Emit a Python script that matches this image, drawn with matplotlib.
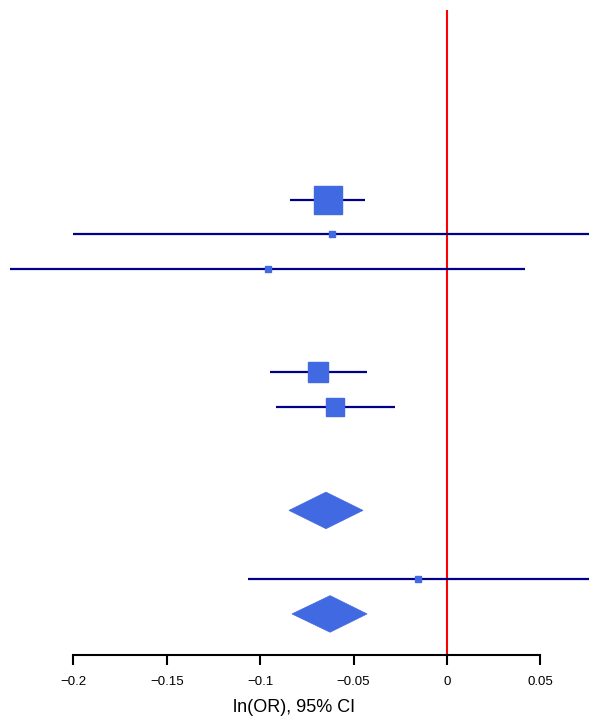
import matplotlib
matplotlib.use("Agg")
import matplotlib.pyplot as plt
from matplotlib.patches import Polygon

plt.rcParams['font.family'] = ['Liberation Sans', 'DejaVu Sans']

# Study rows (estimate, lower, upper, marker size in points, row position)
est = [-0.0637, -0.0616, -0.0958, -0.0690, -0.0600, -0.0155]
lower = [-0.0840, -0.2000, -0.2340, -0.0948, -0.0915, -0.1065]
upper = [-0.0440, 0.0768, 0.0418, -0.0428, -0.0278, 0.0760]
msize = [20, 3.8, 3.8, 15, 13, 4.8]
rows = [13, 12, 11, 8, 7, 2]

# Summary diamonds (estimate, lower, upper, row)
sum_est = [-0.0648, -0.0626]
sum_lo = [-0.0846, -0.0830]
sum_hi = [-0.0450, -0.0428]
sum_rows = [4, 1]

xticks = [-0.2, -0.15, -0.1, -0.05, 0, 0.05]
xticklabels = ["\u22120.2", "\u22120.15", "\u22120.1", "\u22120.05", "0", "0.05"]

fig = plt.figure(figsize=(5.89, 7.23), dpi=100)
ax = fig.add_axes([0, 68/723, 1, 645/723])
ax.set_xlim(-0.2393, 0.0760)
ax.set_ylim(-0.19, 18.5)

ax.axvline(0, color='red', lw=1.5, zorder=1)

for e, lo, hi, s, r in zip(est, lower, upper, msize, rows):
    ax.plot([lo, hi], [r, r], color='#00008B', lw=1.6, zorder=2, solid_capstyle='butt')
    ax.plot([e], [r], marker='s', ms=s, color='#4169E1', mec='#4169E1', zorder=3)

for e, lo, hi, r in zip(sum_est, sum_lo, sum_hi, sum_rows):
    poly = Polygon([[lo, r], [e, r + 0.53], [hi, r], [e, r - 0.53]], closed=True,
                   facecolor='#4169E1', edgecolor='#4169E1', lw=0.5, zorder=3)
    ax.add_patch(poly)

for sp in ['top', 'left', 'right']:
    ax.spines[sp].set_visible(False)
ax.spines['bottom'].set_bounds(-0.2, 0.05)
ax.spines['bottom'].set_linewidth(1.5)
ax.set_yticks([])
ax.set_xticks(xticks)
ax.set_xticklabels(xticklabels, fontsize=9.5)
ax.tick_params(axis='x', direction='out', length=7.5, width=1.5, pad=7.5)
ax.set_xlabel("ln(OR), 95% CI", fontsize=13, labelpad=8)

fig.savefig("out.png", dpi=100)
